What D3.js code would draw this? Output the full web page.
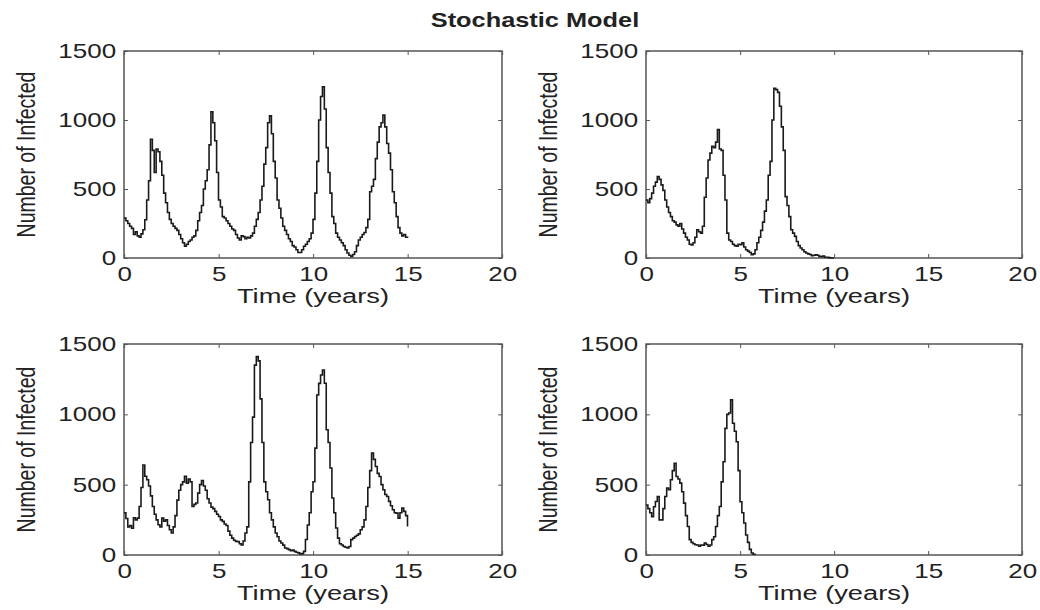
<!DOCTYPE html>
<html>
<head>
<meta charset="utf-8">
<script src="https://cdn.jsdelivr.net/npm/d3@7/dist/d3.min.js"></script>
<style>
  html, body { margin: 0; padding: 0; background: #fff; }
  svg { display: block; }
  text { font-family: "Liberation Sans", Arial, Helvetica, sans-serif; fill: #222; }
</style>
</head>
<body>
<div id="chart"></div>
<script>
// number of infected, one value every 0.1 year
const stepYears = 0.1;

const runA = [
  290, 270, 250, 230, 215, 170, 190, 160, 150, 175,
  205, 277, 420, 560, 860, 780, 620, 790, 770, 700,
  600, 470, 400, 330, 280, 250, 230, 215, 200, 170,
  140, 110, 85, 100, 120, 130, 150, 160, 200, 270,
  330, 380, 500, 560, 640, 820, 1060, 980, 850, 620,
  420, 370, 300, 290, 270, 250, 230, 210, 200, 170,
  145, 130, 160, 155, 140, 150, 145, 160, 180, 230,
  280, 330, 420, 520, 680, 800, 980, 1030, 900, 700,
  580, 420, 360, 290, 230, 200, 170, 140, 120, 90,
  80, 60, 40, 40, 60, 85, 100, 120, 140, 180,
  280, 470, 700, 1000, 1170, 1240, 1080, 800, 620, 470,
  300, 250, 180, 150, 130, 110, 90, 60, 36, 20,
  12, 25, 45, 90, 130, 150, 170, 185, 220, 280,
  480, 520, 570, 720, 840, 950, 980, 1035, 950, 830,
  760, 640, 480, 400, 300, 220, 180, 160, 170, 150,
  145
];

const runB = [
  420, 400, 430, 470, 520, 550, 590, 570, 530, 490,
  420, 370, 330, 300, 270, 260, 240, 230, 250, 210,
  180, 150, 130, 100, 95, 110, 150, 205, 190, 180,
  230, 440, 580, 710, 760, 810, 800, 840, 930, 790,
  780, 600, 420, 180, 130, 120, 100, 90, 85, 100,
  96, 110, 80, 60, 50, 40, 24, 30, 60, 110,
  150, 200, 260, 340, 420, 600, 700, 1000, 1230, 1220,
  1200, 1100, 950, 780, 445, 380, 300, 205, 180, 157,
  120, 90, 72, 60, 45, 36, 30, 25, 17, 20,
  24, 20, 12, 10, 15, 5, 5, 3, 0, 0,
  0
];

const runC = [
  300, 260, 200, 210, 190, 265, 250, 262, 345, 480,
  640, 560, 535, 490, 420, 345, 290, 250, 215, 200,
  262, 240, 250, 210, 180, 156, 200, 280, 390, 460,
  500, 520, 560, 510, 540, 520, 345, 360, 370, 440,
  500, 530, 490, 460, 400, 370, 340, 330, 310, 290,
  274, 250, 239, 220, 210, 170, 140, 120, 105, 97,
  95, 80, 71, 100, 156, 200, 520, 800, 980, 1350,
  1410, 1380, 1110, 800, 520, 450, 393, 300, 250, 200,
  156, 130, 100, 85, 70, 50, 45, 38, 30, 35,
  26, 20, 15, 7, 10, 26, 110, 213, 300, 450,
  521, 760, 1137, 1220, 1280, 1315, 1221, 890, 800, 618,
  405, 300, 192, 120, 80, 71, 60, 55, 50, 60,
  109, 120, 132, 140, 150, 180, 200, 250, 345, 480,
  600, 724, 680, 629, 580, 558, 500, 464, 430, 416,
  381, 350, 322, 300, 298, 262, 300, 334, 310, 280,
  203
];

const runD = [
  355, 330, 300, 272, 343, 380, 416, 249, 250, 330,
  416, 476, 464, 535, 600, 652, 558, 540, 511, 450,
  369, 280, 203, 109, 90, 80, 73, 71, 62, 71,
  70, 85, 75, 62, 71, 109, 130, 203, 280, 345,
  520, 663, 900, 1000, 1010, 1103, 937, 880, 805, 600,
  379, 300, 227, 142, 90, 40, 14, 5, 0
];

const runs = [runA, runB, runC, runD];
const xTicks = [0, 5, 10, 15, 20];
const yTicks = [0, 500, 1000, 1500];
const titleText = "Stochastic Model";
const xLabelText = "Time (years)";
const yLabelText = "Number of Infected";

// the original figure is stretched sideways, so draw in a narrower box and scale it out
const W = 1040, H = 610;
const stretch = 1.3;
const sx = v => v / stretch;

// plot boxes in screen pixels
const boxes = [
  { left: 124, right: 502, top: 51, bottom: 258 },
  { left: 646, right: 1022, top: 51, bottom: 258 },
  { left: 124, right: 502, top: 344, bottom: 555 },
  { left: 646, right: 1022, top: 344, bottom: 555 }
];

const svg = d3.select("#chart").append("svg")
    .attr("width", W)
    .attr("height", H)
    .attr("viewBox", `0 0 ${sx(W)} ${H}`)
    .attr("preserveAspectRatio", "none");

svg.append("text")
    .attr("x", sx(535)).attr("y", 27)
    .attr("text-anchor", "middle")
    .style("font-size", "19.5px").style("font-weight", "bold")
    .attr("fill", "#333")
    .text(titleText);

function styleAxis(g) {
    g.attr("font-size", null).attr("font-family", null);
    g.select(".domain").remove();
    g.selectAll(".tick line")
        .attr("stroke", "#555")
        .attr("vector-effect", "non-scaling-stroke");
    g.selectAll(".tick text").style("font-size", "20px").attr("fill", "#222");
}

function drawPanel(values, box) {
    const x = d3.scaleLinear().domain([0, 20]).range([sx(box.left), sx(box.right)]);
    const y = d3.scaleLinear().domain([0, 1500]).range([box.bottom, box.top]);
    const g = svg.append("g");

    g.append("g").attr("transform", `translate(0,${box.bottom})`)
        .call(d3.axisBottom(x).tickValues(xTicks).tickFormat(d3.format("d"))
            .tickSizeInner(-4).tickSizeOuter(0).tickPadding(9))
        .call(styleAxis);
    g.append("g").attr("transform", `translate(0,${box.top})`)
        .call(d3.axisTop(x).tickValues(xTicks).tickSizeInner(-4).tickSizeOuter(0).tickFormat(""))
        .call(styleAxis);
    g.append("g").attr("transform", `translate(${sx(box.left)},0)`)
        .call(d3.axisLeft(y).tickValues(yTicks).tickFormat(d3.format("d"))
            .tickSizeInner(-3).tickSizeOuter(0).tickPadding(6))
        .call(styleAxis);
    g.append("g").attr("transform", `translate(${sx(box.right)},0)`)
        .call(d3.axisRight(y).tickValues(yTicks).tickSizeInner(-3).tickSizeOuter(0).tickFormat(""))
        .call(styleAxis);

    g.append("rect")
        .attr("x", sx(box.left)).attr("y", box.top)
        .attr("width", sx(box.right - box.left)).attr("height", box.bottom - box.top)
        .attr("fill", "none")
        .attr("stroke", "#555")
        .attr("stroke-width", 1.5)
        .attr("vector-effect", "non-scaling-stroke");

    const line = d3.line()
        .x((d, i) => x(i * stepYears))
        .y(d => y(d))
        .curve(d3.curveStepAfter);

    g.append("path")
        .datum(values)
        .attr("d", line)
        .attr("fill", "none")
        .attr("stroke", "#1a1a1a")
        .attr("stroke-width", 1.6)
        .attr("vector-effect", "non-scaling-stroke");

    g.append("text")
        .attr("x", sx((box.left + box.right) / 2)).attr("y", box.bottom + 45)
        .attr("text-anchor", "middle")
        .style("font-size", "21px")
        .text(xLabelText);

    g.append("text")
        .attr("transform", `translate(${sx(box.left - 89)},${(box.top + box.bottom) / 2}) rotate(-90)`)
        .attr("text-anchor", "middle")
        .style("font-size", "19.5px")
        .text(yLabelText);
}

runs.forEach((r, i) => drawPanel(r, boxes[i]));
</script>
</body>
</html>
